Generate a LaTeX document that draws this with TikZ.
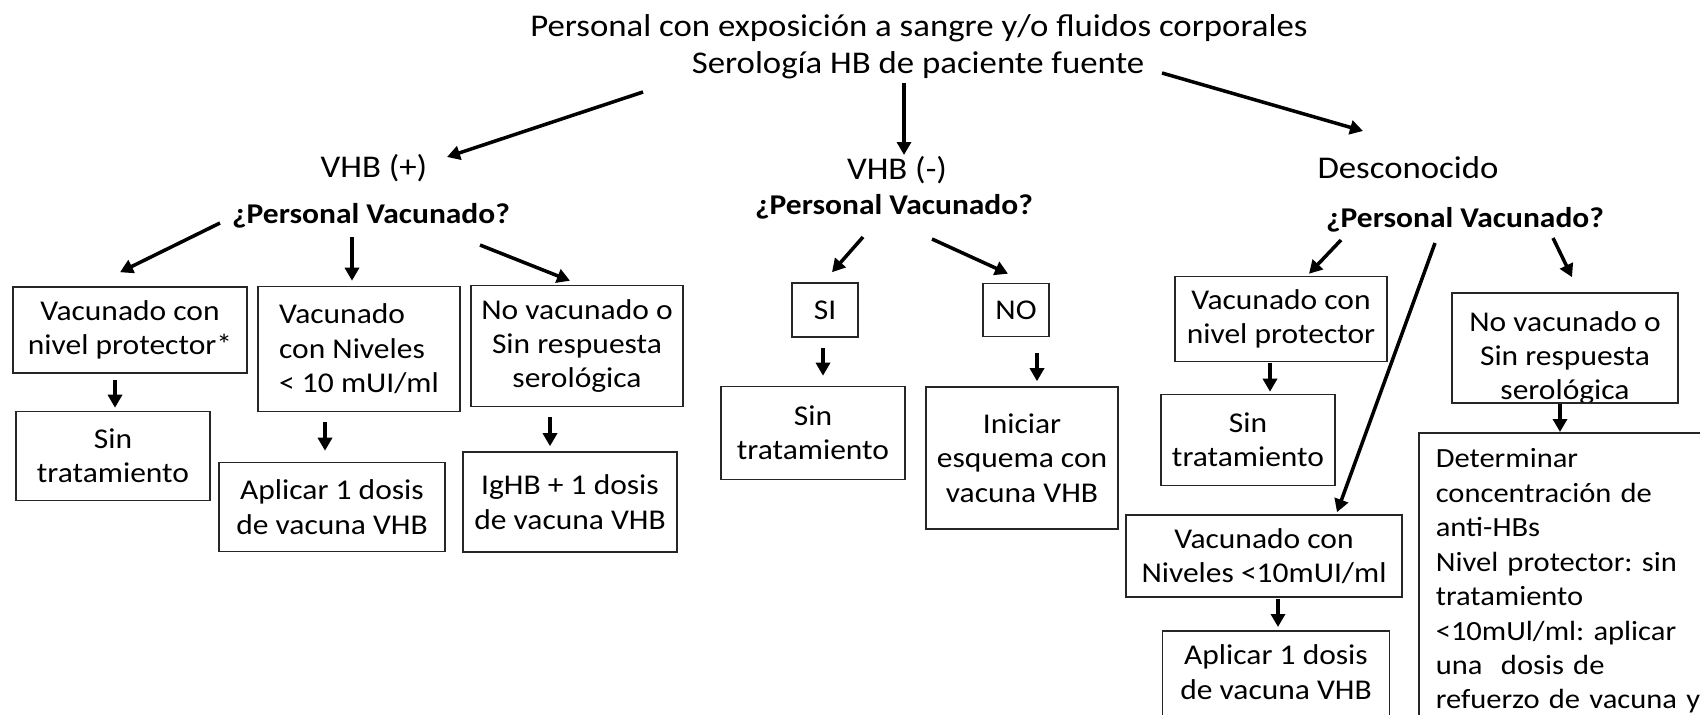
\documentclass[tikz,border=0pt]{standalone}
\usepackage{fontspec}
\setmainfont{Carlito}[FakeStretch=1.1]
\usetikzlibrary{arrows.meta}
\tikzstyle{heading} = [font=\fontsize{18pt}{21pt}\selectfont, inner sep=0pt]
\tikzstyle{question} = [font=\bfseries\fontsize{16.3pt}{19.6pt}\selectfont, inner sep=0pt]
\tikzstyle{box} = [rectangle, draw=black!85, line width=0.9pt, align=center, inner sep=0pt, font=\fontsize{16.3pt}{19.6pt}\selectfont]
\tikzstyle{branch} = [line width=2pt, -{Triangle[length=0.26cm, width=0.28cm]}]
\begin{document}
\begin{tikzpicture}[x=0.02cm, y=-0.02cm]

    \useasboundingbox (0,0) rectangle (1700,714);
    \clip (0,0) rectangle (1700,714);

    % title
    \node [heading] (expo) at (919,28) {Personal con exposición a sangre y/o fluidos corporales};
    \node [heading] (sero) at (918,65) {Serología HB de paciente fuente};

    % VHB (+)
    \node [heading] (vhbp) at (374,168) {VHB (+)};
    \node [question] (pvp) at (371,216) {¿Personal Vacunado?};
    \node [box, minimum width=4.68cm, minimum height=1.72cm] (b1) at (130,330) {Vacunado con\\nivel protector*};
    \node [box, minimum width=3.88cm, minimum height=1.78cm] (b1a) at (113,456) {Sin\\tratamiento};
    \node [box, align=left, minimum width=4.04cm, minimum height=2.5cm] (b2) at (359,349) {Vacunado\\con Niveles\\< 10 mUI/ml};
    \node [box, minimum width=4.52cm, minimum height=1.78cm] (b2a) at (332,507) {Aplicar 1 dosis\\de vacuna VHB};
    \node [box, minimum width=4.24cm, minimum height=2.42cm] (b3) at (577,346) {No vacunado o\\Sin respuesta\\serológica};
    \node [box, minimum width=4.28cm, minimum height=2.0cm] (b3a) at (570,502) {IgHB + 1 dosis\\de vacuna VHB};

    % VHB (-)
    \node [heading] (vhbn) at (897,170) {VHB (-)};
    \node [question] (pvn) at (894,207) {¿Personal Vacunado?};
    \node [box, minimum width=1.32cm, minimum height=1.08cm] (si) at (825,310) {SI};
    \node [box, minimum width=1.32cm, minimum height=1.06cm] (no) at (1016,310) {NO};
    \node [box, minimum width=3.68cm, minimum height=1.86cm] (sia) at (813,433) {Sin\\tratamiento};
    \node [box, minimum width=3.84cm, minimum height=2.84cm] (noa) at (1022,458) {Iniciar\\esquema con\\vacuna VHB};

    % desconocido
    \node [heading] (desc) at (1408,168) {Desconocido};
    \node [question] (pvd) at (1465,220) {¿Personal Vacunado?};
    \node [box, minimum width=4.24cm, minimum height=1.7cm] (d1) at (1281,319) {Vacunado con\\nivel protector};
    \node [box, minimum width=3.48cm, minimum height=1.82cm] (d1a) at (1248,440) {Sin\\tratamiento};
    \node [box, minimum width=5.52cm, minimum height=1.64cm] (d2) at (1264,556) {Vacunado con\\Niveles <10mUI/ml};
    \node [box, anchor=north, minimum width=4.54cm, inner ysep=0.28cm, text depth=1.2cm] (d2a) at (1276,630) {Aplicar 1 dosis\\de vacuna VHB};
    \node [box, minimum width=4.52cm, minimum height=2.2cm, path picture={
        \node [align=center, font=\fontsize{16.3pt}{19.6pt}\selectfont] at ([yshift=-0.2cm]path picture bounding box.center) {No vacunado o\\Sin respuesta\\serológica};
    }] (d3) at (1565,348) {};
    \node [box, anchor=north west, align=left, text width=6cm, inner xsep=0.34cm, inner ysep=0.32cm, text depth=7cm,
        font=\fontsize{15.8pt}{19.6pt}\selectfont\frenchspacing] (d3a) at (1418,432) {Determinar\\concentración de\\anti-HBs\\Nivel protector: sin\\tratamiento\\<10mUl/ml: aplicar\\una~~dosis de\\refuerzo de vacuna y};

    \draw [branch] ([shift={(-275,27)}]sero.center) -- ([shift={(73,-11)}]vhbp.center);
    \draw [branch] ([shift={(-14,18)}]sero.center) -- ([shift={(7,-15)}]vhbn.center);
    \draw [branch] ([shift={(244,8)}]sero.center) -- ([shift={(-45,-37)}]desc.center);

    \draw [branch] ([shift={(-151,7)}]pvp.center) -- ([shift={(-10,-14)}]b1.north);
    \draw [branch] ([shift={(-19,21)}]pvp.center) -- ([shift={(-7,-5)}]b2.north);
    \draw [branch] ([shift={(109,29)}]pvp.center) -- ([shift={(-7,-4)}]b3.north);
    \draw [branch] ([shift={(-15,6)}]b1.south) -- ([shift={(2,-3)}]b1a.north);
    \draw [branch] ([shift={(-34,10)}]b2.south) -- ([shift={(-7,-11)}]b2a.north);
    \draw [branch] ([shift={(-27,10)}]b3.south) -- ([shift={(-20,-5)}]b3a.north);

    \draw [branch] ([shift={(-31,30)}]pvn.center) -- ([shift={(7,-10)}]si.north);
    \draw [branch] ([shift={(38,32)}]pvn.center) -- ([shift={(-8,-9)}]no.north);
    \draw [branch] ([shift={(-2,10)}]si.south) -- ([shift={(10,-10)}]sia.north);
    \draw [branch] ([shift={(21,16)}]no.south) -- ([shift={(15,-5)}]noa.north);

    \draw [branch] ([shift={(-124,20)}]pvd.center) -- ([shift={(28,-2)}]d1.north);
    \draw [branch] ([shift={(-30,23)}]pvd.center) -- ([shift={(73,-2)}]d2.north);
    \draw [branch] ([shift={(88,18)}]pvd.center) -- ([shift={(7,-15)}]d3.north);
    \draw [branch] ([shift={(-11,1)}]d1.south) -- ([shift={(22,-2)}]d1a.north);
    \draw [branch] ([shift={(14,1)}]d2.south) -- ([shift={(2,-3)}]d2a.north);
    \draw [branch] ([shift={(-5,0)}]d3.south) -- ([shift={(142,0)}]d3a.north west);

\end{tikzpicture}
\end{document}
